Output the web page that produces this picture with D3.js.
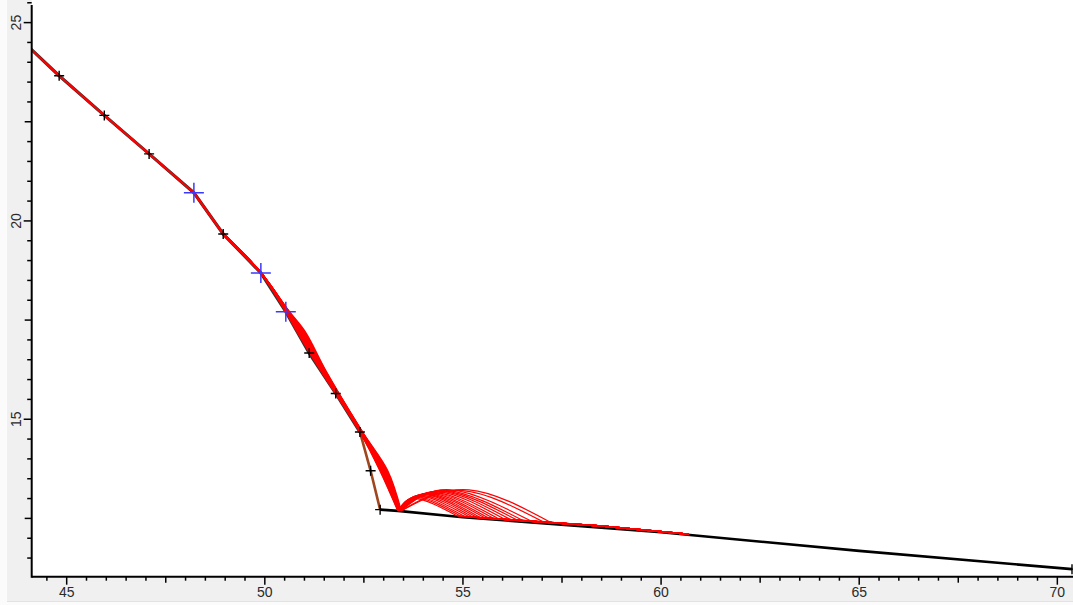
<!DOCTYPE html>
<html><head><meta charset="utf-8">
<script src="https://cdn.jsdelivr.net/npm/d3@7"></script>
<style>html,body{margin:0;padding:0;background:#fff;overflow:hidden}</style>
</head><body><svg id="c" width="1073" height="605"></svg>
<script>
// ---------- data ----------
const xTickLabels = [45, 50, 55, 60, 65, 70];
const yTickLabels = [15, 20, 25];

// main (black) trajectory, upper part
const mainX = [44.10, 44.81, 45.95, 47.08, 48.21, 48.95, 49.90, 50.53, 51.12, 51.79, 52.40];
const mainY = [24.33, 23.66, 22.66, 21.69, 20.71, 19.67, 18.69, 17.71, 16.67, 15.65, 14.68];
// brown segment
const brownX = [52.40, 52.67, 52.91];
const brownY = [14.68, 13.70, 12.72];
// black base line
const baseX = [52.91, 53.36, 55.0, 60.0, 65.0, 70.37];
const baseY = [12.72, 12.69, 12.53, 12.15, 11.68, 11.22];
// markers
const blackMarkX = [44.81, 45.95, 47.08, 48.95, 51.12, 51.79, 52.40, 52.67, 52.91, 70.37];
const blackMarkY = [23.66, 22.66, 21.69, 19.67, 16.67, 15.65, 14.68, 13.70, 12.72, 11.22];
const blueMarkX = [48.21, 49.90, 50.53];
const blueMarkY = [20.71, 18.69, 17.71];

// red bundle: shared upper part
const redCommonX = [44.10, 44.81, 45.95, 47.08, 48.21, 48.95, 49.90];
const redCommonY = [24.33, 23.66, 22.66, 21.69, 20.71, 19.67, 18.69];
// per-curve x positions at fixed depth levels
const redLevelY = [17.71, 17.2, 16.2, 14.68, 13.7, 12.69];
const redX1 = [50.62,50.61,50.61,50.60,50.60,50.59,50.59,50.58,50.58,50.57,50.57,50.56,50.56,50.55,50.55,50.54,50.54,50.53];
const redX2 = [51.02,51.00,50.98,50.96,50.95,50.94,50.93,50.92,50.91,50.90,50.89,50.88,50.87,50.86,50.85,50.84,50.83,50.82];
const redX3 = [51.55,51.54,51.53,51.52,51.52,51.51,51.50,51.50,51.49,51.48,51.48,51.47,51.46,51.46,51.45,51.44,51.44,51.43];
const redKneeX = [52.46,52.46,52.45,52.45,52.45,52.44,52.44,52.44,52.43,52.43,52.43,52.42,52.42,52.42,52.41,52.41,52.40,52.40];
const redBowX = [53.10,53.08,53.06,53.05,53.04,53.03,53.02,53.01,53.00,52.99,52.98,52.97,52.96,52.95,52.94,52.93,52.92,52.91];
const redVX = [53.44,53.43,53.42,53.42,53.41,53.41,53.40,53.40,53.40,53.39,53.39,53.39,53.38,53.38,53.38,53.37,53.37,53.36];
// arcs after the turn
const redPeakX = [55.15,55.00,54.70,54.62,54.55,54.48,54.40,54.34,54.28,54.22,54.16,54.10,54.05,54.00,53.95,53.90,53.86,53.82];
const redPeakY = [13.22,13.20,13.22,13.20,13.19,13.18,13.17,13.15,13.14,13.13,13.12,13.11,13.10,13.08,13.06,13.04,13.02,13.00];
const redLandX = [57.25,57.05,56.75,56.55,56.38,56.22,56.07,55.92,55.79,55.66,55.56,55.46,55.36,55.26,55.16,55.06,54.96,54.86];
const redLandY = [12.38,12.40,12.42,12.43,12.45,12.46,12.47,12.48,12.49,12.50,12.51,12.51,12.52,12.53,12.54,12.54,12.55,12.56];
const redTrailX = [58.5, 60.7];
const redTrailY = [12.31, 12.10];

// ---------- drawing ----------
const W = 1073, H = 605;
const L = 31.7, R = 1073, B = 576.7, T = 0;
const svg = d3.select('#c');
const x = d3.scaleLinear().domain([44.117, 70.37]).range([31.7, 1072]);
const y = d3.scaleLinear().domain([11.03, 25.57]).range([576.7, 0]);

svg.append('rect').attr('x',0).attr('y',0).attr('width',W).attr('height',H).attr('fill','#fbfbfb');
svg.append('rect').attr('x',7).attr('y',0).attr('width',W-7).attr('height',601).attr('fill','#f0f0f0');
svg.append('line').attr('x1',7).attr('x2',W).attr('y1',601.5).attr('y2',601.5).attr('stroke','#e2e2e2');
svg.append('rect').attr('x',L).attr('y',T).attr('width',R-L).attr('height',B-T).attr('fill','#fff');

svg.append('clipPath').attr('id','clip').append('rect').attr('x',L).attr('y',T).attr('width',R-L).attr('height',B-T);
const g = svg.append('g').attr('clip-path','url(#clip)');

const zip = (xs, ys) => xs.map((v,i)=>[v, ys[i]]);
const lin = d3.line().x(d=>x(d[0])).y(d=>y(d[1]));

g.append('path').attr('d', lin(zip(mainX, mainY))).attr('fill','none').attr('stroke','#333').attr('stroke-width',3.2).attr('stroke-linejoin','round');
g.append('path').attr('d', lin(zip(brownX, brownY))).attr('fill','none').attr('stroke','#a0461e').attr('stroke-width',2.6);
g.append('path').attr('d', lin(zip(baseX, baseY))).attr('fill','none').attr('stroke','#000').attr('stroke-width',2.6).attr('stroke-linejoin','round');

const cr = d3.line().x(d=>x(d[0])).y(d=>y(d[1])).curve(d3.curveCatmullRom.alpha(0.5));
const nat = d3.line().x(d=>x(d[0])).y(d=>y(d[1])).curve(d3.curveNatural);
const red = '#ff0000';
// shared upper red line, drawn once thicker
g.append('path').attr('d', lin(zip(redCommonX, redCommonY))).attr('fill','none').attr('stroke',red).attr('stroke-width',2.2).attr('stroke-linejoin','round');
redX1.forEach((_, i) => {
  const upper = [[redCommonX[redCommonX.length-2], redCommonY[redCommonY.length-2]],[redCommonX[redCommonX.length-1], redCommonY[redCommonY.length-1]]].concat(
    zip([redX1[i], redX2[i], redX3[i], redKneeX[i], redBowX[i], redVX[i]], redLevelY));
  g.append('path').attr('d', cr(upper)).attr('fill','none').attr('stroke',red).attr('stroke-width',1.6);
  const arc = [[redVX[i], redLevelY[5]], [redPeakX[i], redPeakY[i]], [redLandX[i], redLandY[i]]];
  g.append('path').attr('d', nat(arc)).attr('fill','none').attr('stroke',red).attr('stroke-width',1.2);
  const trail = [[redLandX[i], redLandY[i]]].concat(zip(redTrailX, redTrailY));
  g.append('path').attr('d', lin(trail)).attr('fill','none').attr('stroke',red).attr('stroke-width',1.4);
});

const cross = (cx, cy, s) => `M${cx-s},${cy}H${cx+s}M${cx},${cy-s}V${cy+s}`;
blackMarkX.forEach((v,i)=>{
  g.append('path').attr('d', cross(x(v), y(blackMarkY[i]), 5)).attr('stroke','#000').attr('stroke-width',1.4).attr('fill','none');
});
blueMarkX.forEach((v,i)=>{
  g.append('path').attr('d', cross(x(v), y(blueMarkY[i]), 10)).attr('stroke','#3a3aff').attr('stroke-width',1.5).attr('fill','none');
});

// ---------- axes ----------
const xMinor = d3.range(44.5, 70.51, 0.5);
const yMinor = d3.range(11.5, 25.51, 0.5);
const ax = svg.append('g');
xMinor.forEach(v=>{
  const isMajor = Math.abs(v % 5) < 1e-6;
  const isMid = !isMajor && Math.abs(v % 2.5) < 1e-6;
  const len = isMajor ? 8 : (isMid ? 6 : 4);
  ax.append('line').attr('x1',x(v)).attr('x2',x(v)).attr('y1',B).attr('y2',B+len).attr('stroke','#000').attr('stroke-width',1.5);
});
yMinor.forEach(v=>{
  const isMajor = Math.abs(v % 5) < 1e-6;
  const isMid = !isMajor && Math.abs(v % 2.5) < 1e-6;
  const len = isMajor ? 8 : (isMid ? 7 : 4.5);
  ax.append('line').attr('x1',L-len).attr('x2',L).attr('y1',y(v)).attr('y2',y(v)).attr('stroke','#000').attr('stroke-width',1.5);
});
ax.append('line').attr('x1',L).attr('x2',R).attr('y1',B).attr('y2',B).attr('stroke','#000').attr('stroke-width',2);
ax.append('line').attr('x1',L).attr('x2',L).attr('y1',5).attr('y2',B+1).attr('stroke','#000').attr('stroke-width',2);

xTickLabels.forEach(v=>{
  ax.append('text').attr('x',x(v)).attr('y',596.7).attr('text-anchor','middle')
    .attr('font-family','Liberation Sans, Arial, sans-serif').attr('font-size',14).attr('fill','#2a2a2a').text(v);
});
yTickLabels.forEach(v=>{
  ax.append('text').attr('transform',`translate(20.7,${y(v)}) rotate(-90)`).attr('text-anchor','middle')
    .attr('font-family','Liberation Sans, Arial, sans-serif').attr('font-size',14).attr('fill','#2a2a2a').text(v);
});
</script></body></html>
